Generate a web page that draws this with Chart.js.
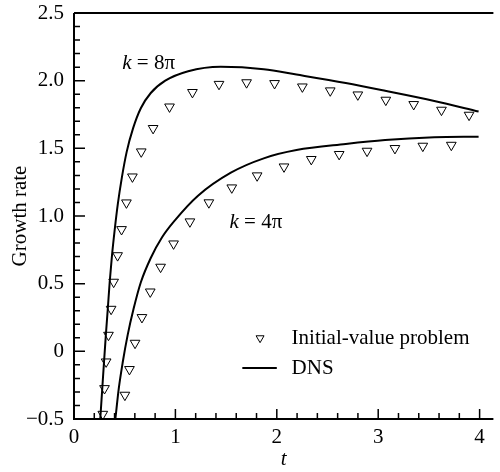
<!DOCTYPE html>
<html>
<head>
<meta charset="utf-8">
<script src="https://cdn.jsdelivr.net/npm/chart.js@4.4.0/dist/chart.umd.min.js"></script>
<style>
html, body { margin: 0; padding: 0; background: #fff; }
#wrap { width: 500px; height: 472px; }
</style>
</head>
<body>
<div id="wrap"><canvas id="myChart" width="500" height="472"></canvas></div>
<script>
// initial-value problem, k = 8pi
var ivp8_t    = [0.284, 0.301, 0.317, 0.340, 0.366, 0.391, 0.430, 0.469, 0.517, 0.576, 0.663, 0.780,
                 0.942, 1.168, 1.430, 1.702, 1.978, 2.252, 2.527, 2.799, 3.075, 3.350, 3.624, 3.896];
var ivp8_rate = [-0.464, -0.274, -0.077, 0.120, 0.312, 0.512, 0.708, 0.901, 1.098, 1.290, 1.475, 1.648,
                 1.807, 1.914, 1.974, 1.986, 1.980, 1.955, 1.926, 1.896, 1.857, 1.825, 1.783, 1.746];
// initial-value problem, k = 4pi
var ivp4_t    = [0.502, 0.547, 0.602, 0.670, 0.752, 0.854, 0.982, 1.143, 1.330, 1.556, 1.806, 2.071,
                 2.340, 2.615, 2.890, 3.165, 3.440, 3.721];
var ivp4_rate = [-0.323, -0.133, 0.061, 0.251, 0.440, 0.623, 0.795, 0.958, 1.099, 1.209, 1.298, 1.364,
                 1.419, 1.456, 1.480, 1.500, 1.517, 1.524];
// DNS, k = 8pi
var dns8_t    = [0.259, 0.279, 0.296, 0.314, 0.333, 0.352, 0.374, 0.401, 0.432, 0.471, 0.519, 0.583,
                 0.660, 0.757, 0.900, 1.126, 1.447, 1.871, 2.194, 2.680, 3.068, 3.553, 3.990];
var dns8_rate = [-0.500, -0.272, -0.079, 0.120, 0.312, 0.512, 0.704, 0.896, 1.088, 1.280, 1.472, 1.649,
                 1.798, 1.909, 2.000, 2.070, 2.103, 2.085, 2.045, 1.982, 1.925, 1.850, 1.772];
// DNS, k = 4pi
var dns4_t    = [0.408, 0.442, 0.481, 0.529, 0.587, 0.660, 0.757, 0.870, 0.997, 1.223, 1.547, 1.871,
                 2.194, 2.680, 3.068, 3.553, 3.990];
var dns4_rate = [-0.500, -0.272, -0.079, 0.120, 0.312, 0.512, 0.690, 0.845, 0.970, 1.150, 1.320, 1.426,
                 1.487, 1.532, 1.561, 1.581, 1.586];

var xTicks = [0, 1, 2, 3, 4];
var yTicks = [-0.5, 0, 0.5, 1.0, 1.5, 2.0, 2.5];

var serif = 'Liberation Serif';
Chart.defaults.font.family = serif;

function pts(t, r) {
    return t.map(function (v, i) { return { x: v, y: r[i] }; });
}

var ivpStyle = {
    showLine: false,
    pointStyle: 'triangle',
    rotation: 180,
    pointRadius: 5.6,
    pointBorderWidth: 1,
    pointBorderColor: '#000',
    pointBackgroundColor: '#fff'
};
var dnsStyle = {
    showLine: true,
    borderColor: '#000',
    borderWidth: 2,
    pointRadius: 0,
    cubicInterpolationMode: 'monotone'
};

// frame, inward ticks, curve labels and legend
var decor = {
    id: 'decor',
    afterDatasetsDraw: function (chart) {
        var c = chart.ctx, a = chart.chartArea, xs = chart.scales.x, ys = chart.scales.y;
        var i, p;
        c.save();
        c.strokeStyle = '#000';
        c.lineWidth = 2;
        c.beginPath();
        c.moveTo(a.left, a.top); c.lineTo(a.right, a.top);
        c.moveTo(a.left, a.top); c.lineTo(a.left, a.bottom); c.lineTo(a.right, a.bottom);
        c.stroke();

        c.lineWidth = 1.5;
        c.beginPath();
        for (i = 1; i <= 20; i++) {
            p = xs.getPixelForValue(i * 0.2);
            c.moveTo(p, a.bottom);
            c.lineTo(p, a.bottom - (i % 5 === 0 ? 10 : 6));
        }
        for (i = 0; i <= 30; i++) {
            p = ys.getPixelForValue(-0.5 + i * 0.1);
            c.moveTo(a.left, p);
            c.lineTo(a.left + (i % 5 === 0 ? 11 : 6), p);
        }
        c.stroke();

        c.fillStyle = '#000';
        c.textBaseline = 'middle';
        c.textAlign = 'left';
        function kLabel(txt, x, y) {
            var px = xs.getPixelForValue(x), py = ys.getPixelForValue(y);
            c.font = 'italic 21px "' + serif + '"';
            c.fillText('k', px, py);
            var w = c.measureText('k').width;
            c.font = '21px "' + serif + '"';
            c.fillText(txt, px + w, py);
        }
        kLabel(' = 8\u03c0', 0.476, 2.13);
        kLabel(' = 4\u03c0', 1.534, 0.955);

        // legend
        var lx = xs.getPixelForValue(1.835), ly = ys.getPixelForValue(0.098);
        c.fillStyle = '#fff';
        c.strokeStyle = '#000';
        c.lineWidth = 1;
        Chart.helpers.drawPoint(c, { pointStyle: 'triangle', rotation: 180, radius: 4.6, borderWidth: 1 }, lx, ly);
        c.fillStyle = '#000';
        c.font = '21px "' + serif + '"';
        var tx = xs.getPixelForValue(2.146);
        c.fillText('Initial-value problem', tx, ly);
        var dy = ys.getPixelForValue(-0.124);
        c.lineWidth = 2;
        c.beginPath();
        c.moveTo(xs.getPixelForValue(1.66), dy);
        c.lineTo(xs.getPixelForValue(2.0), dy);
        c.stroke();
        c.fillText('DNS', tx, dy);
        c.restore();
    }
};

var ctx = document.getElementById('myChart').getContext('2d');
var chart = new Chart(ctx, {
    type: 'scatter',
    data: {
        datasets: [
            Object.assign({ label: 'DNS k=8pi', data: pts(dns8_t, dns8_rate) }, dnsStyle),
            Object.assign({ label: 'DNS k=4pi', data: pts(dns4_t, dns4_rate) }, dnsStyle),
            Object.assign({ label: 'Initial-value problem k=8pi', data: pts(ivp8_t, ivp8_rate) }, ivpStyle),
            Object.assign({ label: 'Initial-value problem k=4pi', data: pts(ivp4_t, ivp4_rate) }, ivpStyle)
        ]
    },
    options: {
        responsive: false,
        animation: false,
        layout: { padding: { top: 13, right: 0, bottom: 0, left: 0 } },
        plugins: { legend: { display: false }, tooltip: { enabled: false } },
        scales: {
            x: {
                type: 'linear',
                min: 0,
                max: 4.136,
                afterBuildTicks: function (s) { s.ticks = xTicks.map(function (v) { return { value: v }; }); },
                afterFit: function (s) { s.height = 53; s.paddingLeft = 0; s.paddingRight = 0; },
                grid: { display: false, drawTicks: false },
                border: { display: false },
                ticks: {
                    color: '#000',
                    padding: 6,
                    maxRotation: 0,
                    font: { family: serif, size: 21 },
                    callback: function (v) { return String(v); }
                },
                title: {
                    display: true,
                    text: 't',
                    color: '#000',
                    padding: { top: 0, bottom: 0 },
                    font: { family: serif, size: 21, style: 'italic' }
                }
            },
            y: {
                type: 'linear',
                min: -0.5,
                max: 2.5,
                afterBuildTicks: function (s) { s.ticks = yTicks.map(function (v) { return { value: v }; }); },
                afterFit: function (s) { s.width = 74; s.paddingTop = 0; s.paddingBottom = 0; },
                grid: { display: false, drawTicks: false },
                border: { display: false },
                ticks: {
                    color: '#000',
                    padding: 10,
                    font: { family: serif, size: 21 },
                    callback: function (v) {
                        if (v === 0) return '0';
                        return (v < 0 ? '\u2212' : '') + Math.abs(v).toFixed(1);
                    }
                },
                title: {
                    display: true,
                    text: 'Growth rate',
                    color: '#000',
                    padding: { top: 8, bottom: 0 },
                    font: { family: serif, size: 21 }
                }
            }
        }
    },
    plugins: [decor]
});
</script>
</body>
</html>
